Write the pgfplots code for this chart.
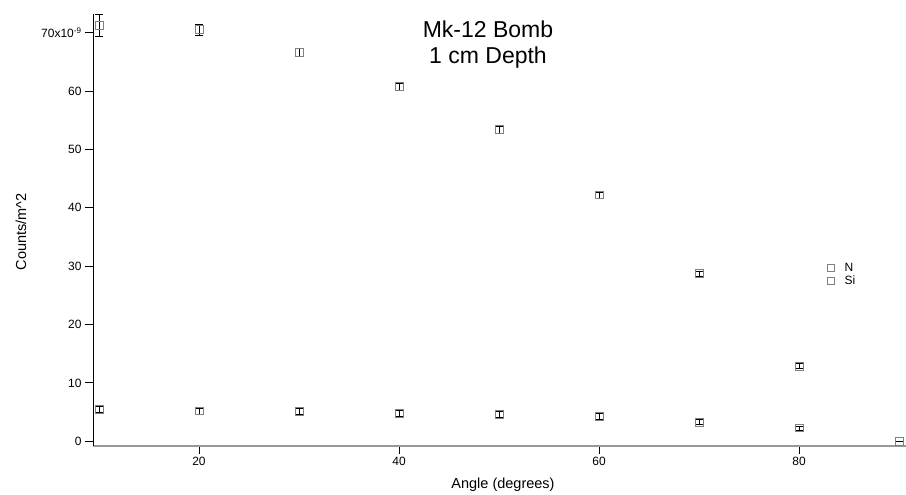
\documentclass[border=0pt]{standalone}
\usepackage{pgfplots}
\pgfplotsset{compat=1.18}
\usepackage{fontspec}
\setmainfont{Liberation Sans}
\begin{document}
\begin{tikzpicture}[x=1pt,y=1pt]
\begin{axis}[
  at={(93pt,49pt)}, anchor=south west,
  scale only axis, width=813pt, height=432pt,
  xmin=9.4, xmax=90.7, ymin=-0.8, ymax=73.2,
  axis x line*=bottom, axis y line*=left,
  x axis line style={gray!80, line width=1.6pt, -},
  y axis line style={black, line width=0.9pt, -},
  tick align=outside, major tick length=8pt,
  tick style={black, line width=0.9pt},
  xtick={20,40,60,80}, ytick={0,10,20,30,40,50,60,70},
  yticklabels={0,10,20,30,40,50,60,{70x10\textsuperscript{-9}}},
  /pgf/number format/assume math mode=true,
  ticklabel style={font=\fontsize{12}{14}\selectfont},
  legend image code/.code={\draw[gray, line width=0.8pt] (0pt,-3.6pt) rectangle (7.2pt,3.6pt); \path (15pt,0pt);},
  legend style={at={(0.899,0.433)}, anchor=north west, draw=none, fill=none,
    font=\fontsize{12}{13}\selectfont, row sep=-1pt},
  legend cell align=left,
  clip=false,
]
\addplot[only marks, mark=square, mark size=3.9pt, gray, mark options={line width=0.8pt},
  error bars/.cd, y dir=both, y explicit,
  error bar style={black, line width=0.7pt},
  error mark options={rotate=90, mark size=4pt, black, line width=0.7pt}]
  coordinates {
  (10,5.5) +- (0,0.5)
  (20,5.2) +- (0,0.5)
  (30,5.1) +- (0,0.5)
  (40,4.8) +- (0,0.5)
  (50,4.6) +- (0,0.5)
  (60,4.3) +- (0,0.45)
  (70,3.3) +- (0,0.4)
  (80,2.3) +- (0,0.35)
  (90,0) +- (0,0)
};
\addlegendentry{N}
\addplot[only marks, mark=square, mark size=3.9pt, gray, mark options={line width=0.8pt},
  error bars/.cd, y dir=both, y explicit,
  error bar style={black, line width=0.7pt},
  error mark options={rotate=90, mark size=4pt, black, line width=0.7pt}]
  coordinates {
  (10,71.2) +- (0,1.9)
  (20,70.5) +- (0,1.0)
  (30,66.6) +- (0,0.7)
  (40,60.8) +- (0,0.6)
  (50,53.4) +- (0,0.6)
  (60,42.2) +- (0,0.5)
  (70,28.7) +- (0,0.5)
  (80,12.9) +- (0,0.4)
  (90,0) +- (0,0)
};
\addlegendentry{Si}
\end{axis}
\node[align=center, font=\fontsize{23}{26}\selectfont] at (488pt,450pt) {Mk-12 Bomb\\1 cm Depth};
\node[font=\fontsize{14.5}{16}\selectfont] at (503pt,10pt) {Angle (degrees)};
\node[rotate=90, font=\fontsize{14.5}{16}\selectfont] at (21pt,263pt) {Counts/m\textasciicircum 2};
\pgfresetboundingbox
\useasboundingbox (0,0) rectangle (906pt,495pt);
\end{tikzpicture}
\end{document}
